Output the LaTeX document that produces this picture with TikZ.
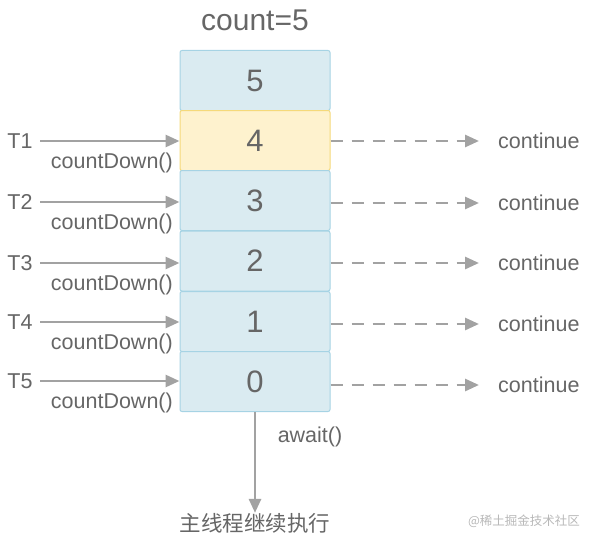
\documentclass[tikz,border=0pt]{standalone}
\usepackage{fontspec}
\setmainfont{Liberation Sans}
\newfontfamily\cjk{Noto Sans CJK SC}
\usetikzlibrary{arrows.meta}
\definecolor{txtgray}{HTML}{666666}
\definecolor{arrgray}{HTML}{A2A2A2}
\definecolor{bluefill}{HTML}{DAEBF1}
\definecolor{blueline}{HTML}{A6D3E4}
\definecolor{yelfill}{HTML}{FEF2CE}
\definecolor{yelline}{HTML}{F5D97A}
\definecolor{wmgray}{HTML}{B8B8B8}
\tikzset{
  cell/.style={draw=blueline, fill=bluefill, line width=1pt, rounded corners=2pt,
    minimum width=150pt, minimum height=60pt, inner sep=0pt, text=txtgray,
    font=\fontsize{31}{36}\selectfont},
  hot/.style={cell, draw=yelline, fill=yelfill},
  lbl/.style={text=txtgray, inner sep=0pt, font=\fontsize{21.5}{26}\selectfont},
  inarrow/.style={draw=arrgray, line width=2.8pt, -{Triangle[length=14pt,width=12pt]}},
  outarrow/.style={inarrow, dash pattern=on 12pt off 9pt},
}
\begin{document}
\begin{tikzpicture}[x=1pt, y=-1pt]
\useasboundingbox (0,0) rectangle (596,543);
\node[lbl, font=\fontsize{30}{36}\selectfont] (title) at (255,20) {count=5};
\node[cell] (b5) at (255,80.5) {5};
\node[hot]  (b4) at (255,140.5) {4};
\node[cell] (b3) at (255,200.5) {3};
\node[cell] (b2) at (255,261) {2};
\node[cell] (b1) at (255,321.5) {1};
\node[cell] (b0) at (255,381.5) {0};
% left threads
\foreach \n/\y/\b in {1/141/b4, 2/202/b3, 3/263/b2, 4/322/b1, 5/381/b0}{
  \node[lbl] (t\n) at (20,\y) {T\n};
  \coordinate (ts\n) at (40,\y);
  \draw[inarrow] (ts\n) -- (ts\n -| \b.west);
  \node[lbl, anchor=east] (cd\n) at (173,\y+22) {countDown()};
}
% right continues
\foreach \n/\y/\b in {1/141/b4, 2/203/b3, 3/263/b2, 4/324/b1, 5/385/b0}{
  \node[lbl, anchor=west] (c\n) at (498,\y) {continue};
  \coordinate (ce\n) at (479,\y);
  \draw[outarrow] (ce\n -| \b.east) -- (ce\n);
}
\node[lbl] (main) at (255,523) {\cjk 主线程继续执行};
\draw[inarrow] (b0.south) -- (main.north);
\node[lbl] (await) at (310,437) {await()};
\node[text=wmgray, inner sep=0pt, font=\fontsize{12.5}{15}\selectfont] (wm) at (524,521) {\cjk @稀土掘金技术社区};
\end{tikzpicture}
\end{document}
